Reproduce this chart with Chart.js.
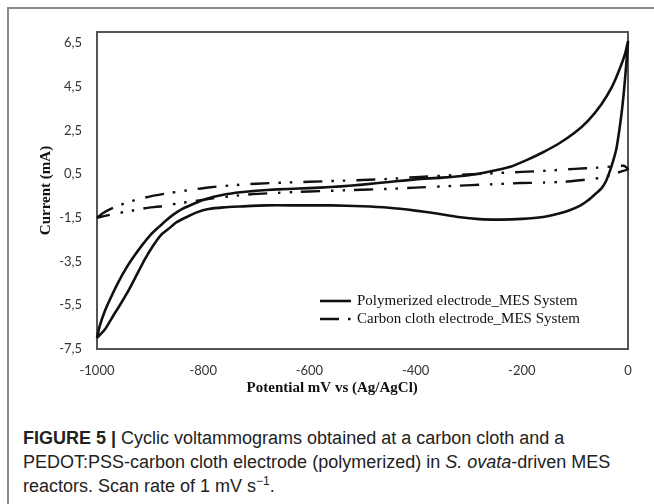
<!DOCTYPE html>
<html lang="en">

<head>
  <meta charset="UTF-8">
  <script src="https://cdn.jsdelivr.net/npm/chart.js"></script>
  <title>Figure 5</title>
  <style>
    html, body { margin: 0; padding: 0; background: #fff; }
    body { width: 654px; height: 504px; position: relative; overflow: hidden; }
    .moldura {
      position: absolute; left: 7px; top: 7px; width: 700px; height: 520px;
      border-left: 2px solid #8a8a8a; border-top: 2px solid #8a8a8a;
    }
    #grafico { position: absolute; left: 0; top: 0; }
    .legenda-fig {
      position: absolute; left: 23px; top: 426px; width: 630px;
      font-family: "Liberation Sans", Arial, sans-serif; font-size: 18px;
      line-height: 24px; color: #222;
    }
    .legenda-fig b { font-weight: bold; }
    .legenda-fig sup { font-size: 12px; line-height: 0; vertical-align: 7px; }
  </style>
</head>

<body>
  <div class="moldura"></div>
  <canvas id="grafico" width="654" height="400"></canvas>
  <div class="legenda-fig">
    <b>FIGURE 5 |</b> Cyclic voltammograms obtained at a carbon cloth and a<br>
    PEDOT:PSS-carbon cloth electrode (polymerized) in <i>S. ovata</i>-driven MES<br>
    reactors. Scan rate of 1 mV s<sup>−1</sup>.
  </div>
</body>

</html>
<script>
  // nomes das series
  var series = ["Polymerized electrode_MES System", "Carbon cloth electrode_MES System"]

  // eletrodo polimerizado - varredura de ida (de -1000 ate 0)
  var polIdaX = [-1000, -995, -985, -975, -960, -945, -930, -915, -900, -885, -870, -855, -840, -820, -800, -780, -760, -730, -700, -660, -620, -580, -540, -500, -450, -400, -350, -300, -260, -220, -190, -160, -130, -100, -75, -50, -30, -15, -5, 0]
  var polIdaY = [-7.0, -6.45, -5.75, -5.2, -4.45, -3.8, -3.25, -2.75, -2.3, -1.95, -1.62, -1.33, -1.1, -0.88, -0.68, -0.54, -0.43, -0.33, -0.26, -0.2, -0.16, -0.12, -0.06, 0.02, 0.14, 0.26, 0.34, 0.45, 0.62, 0.85, 1.15, 1.5, 1.9, 2.4, 2.95, 3.7, 4.5, 5.35, 6.05, 6.55]
  // eletrodo polimerizado - volta (de 0 ate -1000)
  var polVoltaX = [-4, -8, -12, -17, -22, -28, -34, -42, -50, -60, -75, -90, -110, -130, -160, -200, -240, -280, -320, -360, -400, -450, -500, -560, -620, -680, -730, -762, -790, -812, -830, -850, -865, -880, -895, -910, -925, -940, -957, -970, -985, -1000]
  var polVoltaY = [5.3, 4.2, 3.3, 2.4, 1.65, 1.1, 0.65, 0.15, -0.15, -0.38, -0.7, -0.94, -1.15, -1.3, -1.46, -1.55, -1.58, -1.56, -1.46, -1.3, -1.17, -1.04, -0.97, -0.93, -0.93, -0.93, -0.98, -1.02, -1.1, -1.25, -1.45, -1.7, -2.0, -2.3, -2.8, -3.4, -4.1, -4.8, -5.5, -6.0, -6.6, -7.0]

  // tecido de carbono - ida
  var carbIdaX = [-1000, -990, -975, -957, -940, -920, -890, -860, -830, -790, -750, -700, -650, -600, -550, -500, -450, -400, -330, -260, -200, -150, -100, -60, -30, -8]
  var carbIdaY = [-1.5, -1.3, -1.1, -0.92, -0.77, -0.63, -0.47, -0.35, -0.24, -0.11, -0.02, 0.06, 0.11, 0.15, 0.19, 0.23, 0.28, 0.36, 0.45, 0.53, 0.6, 0.66, 0.74, 0.79, 0.85, 0.88]
  // tecido de carbono - volta
  var carbVoltaX = [0, -15, -30, -50, -66, -85, -119, -160, -203, -260, -330, -400, -454, -520, -580, -620, -660, -706, -750, -782, -812, -850, -878, -910, -940, -970, -1000]
  var carbVoltaY = [0.73, 0.6, 0.46, 0.34, 0.28, 0.23, 0.15, 0.11, 0.09, 0.03, -0.04, -0.12, -0.18, -0.23, -0.28, -0.31, -0.36, -0.41, -0.52, -0.61, -0.72, -0.85, -0.97, -1.06, -1.2, -1.33, -1.5]

  // marcas dos eixos
  var ticksX = [-1000, -800, -600, -400, -200, 0]
  var ticksY = [-7.5, -5.5, -3.5, -1.5, 0.5, 2.5, 4.5, 6.5]

  function juntar(xs, ys) {
    var pts = []
    for (var i = 0; i < xs.length; i++) {
      pts.push({ x: xs[i], y: ys[i] })
    }
    return pts
  }

  var tracoCarbono = [19, 9, 2.5, 9, 2.5, 11]

  // moldura da area do grafico
  const moldura = {
    id: "moldura",
    beforeDatasetsDraw(chart) {
      const a = chart.chartArea
      const ctx = chart.ctx
      ctx.save()
      ctx.strokeStyle = "#555"
      ctx.lineWidth = 2
      ctx.strokeRect(a.left, a.top, a.right - a.left, a.bottom - a.top)
      ctx.restore()
    }
  }

  // legenda dentro do grafico + titulo do eixo x
  const legendaInterna = {
    id: "legendaInterna",
    afterDraw(chart) {
      const a = chart.chartArea
      const ctx = chart.ctx
      ctx.save()
      var x0 = a.left + 223
      var linhas = [a.bottom - 48, a.bottom - 30]
      chart.data.datasets.forEach((ds, i) => {
        var y = linhas[i]
        ctx.beginPath()
        ctx.strokeStyle = ds.borderColor
        ctx.lineWidth = ds.borderWidth
        ctx.setLineDash(ds.borderDash || [])
        ctx.moveTo(x0, y)
        ctx.lineTo(x0 + 31, y)
        ctx.stroke()
        ctx.setLineDash([])
        ctx.fillStyle = "#111"
        ctx.font = "15px 'Liberation Serif', 'Times New Roman', serif"
        ctx.textBaseline = "middle"
        ctx.textAlign = "left"
        ctx.fillText(ds.label, x0 + 37, y)
      })
      // titulo do eixo x
      ctx.font = "bold 15px 'Liberation Serif', 'Times New Roman', serif"
      ctx.textAlign = "center"
      ctx.fillText("Potential mV vs (Ag/AgCl)", a.left + (a.right - a.left) * 0.443, a.bottom + 39)
      ctx.restore()
    }
  }

  const ctx = document.getElementById("grafico")
  let grafico = new Chart(ctx, {
    type: "scatter",
    data: {
      datasets: [{
        label: series[0],
        data: juntar(polIdaX, polIdaY).concat(juntar(polVoltaX, polVoltaY)),
        showLine: true,
        borderColor: "#111",
        borderWidth: 2.6,
        pointRadius: 0,
        tension: 0.2,
        clip: false,
      }, {
        label: series[1],
        data: juntar(carbIdaX, carbIdaY).concat(juntar(carbVoltaX, carbVoltaY)),
        showLine: true,
        borderColor: "#111",
        borderWidth: 2.4,
        borderDash: tracoCarbono,
        pointRadius: 0,
        tension: 0.2,
        clip: false,
      }],
    },
    options: {
      responsive: false,
      animation: false,
      layout: { padding: { top: 32, right: 26, left: 0, bottom: 0 } },
      plugins: {
        legend: { display: false },
        tooltip: { enabled: false },
      },
      scales: {
        x: {
          type: "linear",
          min: -1000,
          max: 0,
          grid: { display: false, drawTicks: false },
          border: { display: false },
          afterBuildTicks: (scale) => { scale.ticks = ticksX.map(v => ({ value: v })) },
          afterFit: (scale) => { scale.height = 51 },
          ticks: {
            padding: 14,
            color: "#333",
            font: { family: "Lato, 'Liberation Sans', sans-serif", size: 13 },
            callback: (v) => String(v),
          },
        },
        y: {
          type: "linear",
          min: -7.5,
          max: 7,
          grid: { display: false, drawTicks: false },
          border: { display: false },
          afterBuildTicks: (scale) => { scale.ticks = ticksY.map(v => ({ value: v })) },
          afterFit: (scale) => { scale.width = 97 },
          ticks: {
            padding: 15,
            color: "#333",
            font: { family: "Lato, 'Liberation Sans', sans-serif", size: 13 },
            callback: (v) => String(v).replace(".", ","),
          },
          title: {
            display: true,
            text: "Current (mA)",
            color: "#111",
            padding: { top: 37, bottom: 0 },
            font: { family: "'Liberation Serif', 'Times New Roman', serif", size: 15, weight: "bold" },
          },
        },
      },
    },
    plugins: [moldura, legendaInterna],
  })
</script>
